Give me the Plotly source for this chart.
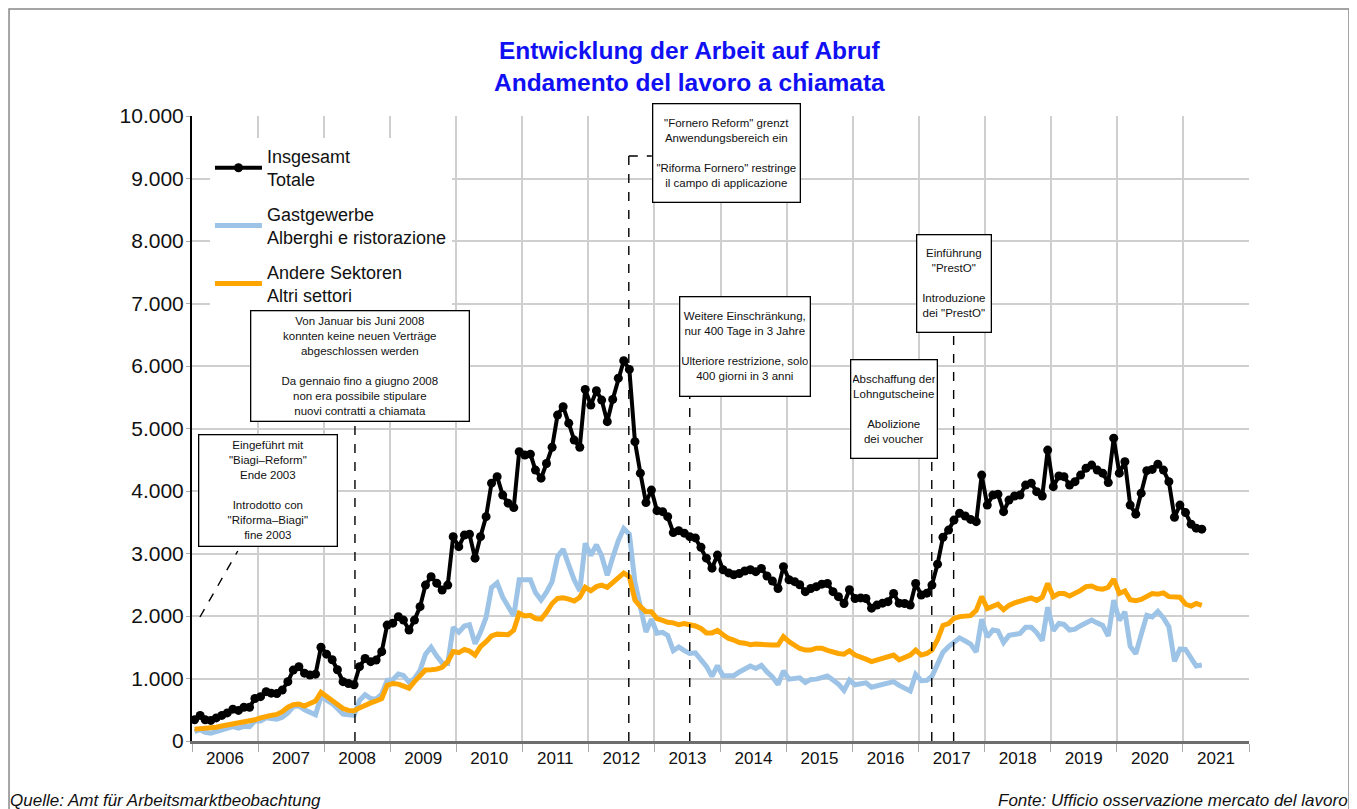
import pandas as pd
import plotly.graph_objects as go

# monthly observations, Jan 2006 .. Apr 2021 (plotted mid-month)
months = pd.date_range("2006-01-01", "2021-04-01", freq="MS") + pd.Timedelta(days=14)

totale = [
    340, 410, 340, 330, 370, 410, 450, 510, 490, 540, 540, 680,            # 2006
    710, 790, 765, 760, 815, 950, 1135, 1190, 1085, 1055, 1070, 1500,      # 2007
    1390, 1300, 1140, 950, 920, 900, 1190, 1320, 1270, 1295, 1430, 1855,   # 2008
    1885, 1990, 1935, 1775, 1935, 2150, 2495, 2630, 2525, 2415, 2495, 3270,  # 2009
    3110, 3295, 3310, 2925, 3270, 3590, 4125, 4230, 3935, 3805, 3735, 4630,  # 2010
    4575, 4590, 4335, 4205, 4440, 4700, 5215, 5350, 5085, 4815, 4700, 5625,  # 2011
    5375, 5605, 5455, 5110, 5465, 5805, 6085, 5945, 4790, 4285, 3815, 4015,  # 2012
    3685, 3670, 3590, 3335, 3365, 3325, 3270, 3250, 3100, 2925, 2765, 2975,  # 2013
    2740, 2690, 2660, 2680, 2720, 2740, 2710, 2760, 2640, 2560, 2440, 2790,  # 2014
    2580, 2550, 2500, 2390, 2440, 2470, 2510, 2520, 2390, 2310, 2200, 2420,  # 2015
    2280, 2290, 2280, 2125, 2175, 2205, 2230, 2360, 2205, 2200, 2175, 2520,  # 2016
    2335, 2365, 2495, 2830, 3260, 3375, 3535, 3645, 3600, 3545, 3510, 4255,  # 2017
    3775, 3935, 3950, 3670, 3855, 3920, 3935, 4095, 4125, 3990, 3920, 4655,  # 2018
    4070, 4240, 4230, 4095, 4150, 4255, 4365, 4415, 4335, 4285, 4135, 4845,  # 2019
    4285, 4470, 3775, 3630, 3965, 4325, 4345, 4430, 4335, 4150, 3580, 3775,  # 2020
    3655, 3470, 3405, 3390,                                                 # 2021
]

alberghi = [
    150, 180, 140, 125, 150, 175, 200, 230, 205, 235, 230, 320,
    320, 370, 360, 350, 380, 450, 550, 560, 500, 460, 420, 710,
    660, 600, 520, 430, 420, 410, 650, 740, 680, 670, 750, 970,
    980, 1070, 1050, 940, 1000, 1130, 1390, 1500, 1360, 1250, 1240, 1820,
    1740, 1840, 1860, 1555, 1740, 1980, 2455, 2530, 2300, 2170, 2000, 2580,
    2575, 2580, 2375, 2255, 2380, 2550, 2950, 3070, 2815, 2580, 2400, 3165,
    2970, 3140, 2960, 2650, 2935, 3205, 3400, 3310, 2540, 2135, 1745, 1950,
    1725, 1740, 1690, 1445, 1505, 1445, 1400, 1410, 1300, 1195, 1035, 1205,
    1045, 1050, 1045, 1105, 1155, 1200, 1160, 1210, 1105, 1025, 905, 1120,
    990, 1000, 1010, 935, 985, 990, 1020, 1040, 975, 910, 810, 975,
    900, 925, 930, 860, 885, 905, 920, 950, 890, 850, 800, 1065,
    965, 970, 1035, 1230, 1420, 1510, 1590, 1650, 1600, 1550, 1425, 1950,
    1665, 1775, 1760, 1575, 1690, 1715, 1720, 1820, 1820, 1735, 1605, 2140,
    1765, 1880, 1865, 1775, 1790, 1845, 1895, 1935, 1890, 1850, 1680, 2255,
    1930, 2065, 1515, 1395, 1705, 2010, 1985, 2075, 1970, 1830, 1275, 1470,
    1465, 1330, 1200, 1215,
]

altri = [
    190, 195, 195, 205, 220, 240, 255, 265, 280, 290, 305, 340,
    370, 400, 410, 425, 470, 540, 580, 590, 560, 600, 640, 780,
    710, 640, 570, 520, 490, 485, 530, 575, 610, 640, 680, 890,
    920, 910, 880, 845, 950, 1055, 1135, 1140, 1150, 1180, 1270, 1430,
    1415, 1465, 1440, 1375, 1510, 1590, 1680, 1710, 1700, 1700, 1775, 2045,
    2000, 2010, 1960, 1950, 2060, 2200, 2280, 2290, 2270, 2240, 2300, 2460,
    2405, 2470, 2495, 2460, 2535, 2600, 2685, 2630, 2255, 2150, 2070, 2070,
    1960, 1930, 1900, 1890, 1860, 1880, 1870, 1840, 1800, 1730, 1730, 1770,
    1700, 1640, 1615, 1575, 1565, 1540, 1550, 1540, 1535, 1535, 1535, 1670,
    1590, 1535, 1480, 1455, 1455, 1485, 1485, 1450, 1415, 1400, 1390, 1445,
    1375, 1350, 1310, 1270, 1295, 1310, 1330, 1375, 1300, 1330, 1375, 1455,
    1375, 1400, 1455, 1620, 1850, 1880, 1960, 1990, 2000, 2005, 2090, 2310,
    2120, 2150, 2190, 2100, 2170, 2210, 2230, 2270, 2290, 2250, 2300, 2520,
    2310, 2360, 2360, 2320, 2360, 2410, 2470, 2480, 2440, 2430, 2460, 2590,
    2360, 2400, 2260, 2245, 2265, 2320, 2360, 2350, 2370, 2310, 2300, 2300,
    2190, 2160, 2200, 2170,
]

series_names = ["Insgesamt<br>Totale",
                "Gastgewerbe<br>Alberghi e ristorazione",
                "Andere Sektoren<br>Altri settori"]

title_lines = ["Entwicklung der Arbeit auf Abruf", "Andamento del lavoro a chiamata"]

FONT = "Liberation Sans, Arial, sans-serif"

fig = go.Figure()
fig.add_trace(go.Scatter(x=months, y=alberghi, mode="lines", name=series_names[1],
                         line=dict(color="#9DC3E6", width=5), legendrank=2, legendgroup="b"))
fig.add_trace(go.Scatter(x=months, y=altri, mode="lines", name=series_names[2],
                         line=dict(color="#FFA500", width=5), legendrank=3, legendgroup="c"))
fig.add_trace(go.Scatter(x=months, y=totale, mode="lines+markers", name=series_names[0],
                         line=dict(color="black", width=4),
                         marker=dict(size=9, color="black"), legendrank=1, legendgroup="a"))

# event boxes: (text, center x paper, center y paper, width, height)
boxes = [
    ("Eingeführt mit<br>\"Biagi–Reform\"<br>Ende 2003<br> <br>Introdotto con<br>\"Riforma–Biagi\"<br>fine 2003",
     0.0719, 0.4008, 140, 113),
    ("Von Januar bis Juni 2008<br>konnten keine neuen Verträge<br>abgeschlossen werden<br> <br>"
     "Da gennaio fino a giugno 2008<br>non era possibile stipulare<br>nuovi contratti a chiamata",
     0.1589, 0.600, 220, 112),
    ("\"Fornero Reform\" grenzt<br>Anwendungsbereich ein<br> <br>\"Riforma Fornero\" restringe<br>il campo di applicazione",
     0.5057, 0.9408, 149, 100),
    ("Weitere Einschränkung,<br>nur 400 Tage in 3 Jahre<br> <br>Ulteriore restrizione, solo<br>400 giorni in 3 anni",
     0.5232, 0.6312, 132, 101),
    ("Abschaffung der<br>Lohngutscheine<br> <br>Abolizione<br>dei voucher",
     0.6641, 0.5312, 88, 100),
    ("Einführung<br>\"PrestO\"<br> <br>Introduzione<br>dei \"PrestO\"",
     0.7209, 0.732, 76, 99),
]

annotations = []
for text, cx, cy, w, h in boxes:
    annotations.append(dict(
        text=text, xref="paper", yref="paper", x=cx, y=cy,
        xanchor="center", yanchor="middle", showarrow=False,
        width=w - 6, height=h - 6, align="center", valign="middle",
        bgcolor="white", bordercolor="black", borderwidth=1.3, borderpad=1.5,
        font=dict(family=FONT, size=11.5, color="#111")))

annotations.append(dict(
    text="<b>" + title_lines[0] + "<br>" + title_lines[1] + "</b>",
    xref="paper", yref="paper", x=0.4702, y=1.079, xanchor="center", yanchor="middle",
    showarrow=False, font=dict(family=FONT, size=24.5, color="#1010F2")))
annotations.append(dict(
    text="<i>Quelle: Amt für Arbeitsmarktbeobachtung</i>", xref="paper", yref="paper",
    x=-0.1741, y=-0.0944, xanchor="left", yanchor="middle", showarrow=False,
    font=dict(family=FONT, size=17, color="#111")))
annotations.append(dict(
    text="<i>Fonte: Ufficio osservazione mercato del lavoro</i>", xref="paper", yref="paper",
    x=1.0956, y=-0.0944, xanchor="right", yanchor="middle", showarrow=False,
    font=dict(family=FONT, size=17, color="#111")))

dash = dict(color="black", width=1.4, dash="dash")
shapes = [
    dict(type="line", xref="x", yref="paper", x0="2008-06-20", x1="2008-06-20", y0=0, y1=0.5104, line=dash),
    dict(type="line", xref="x", yref="paper", x0="2012-08-12", x1="2012-08-12", y0=0, y1=0.936, line=dash),
    dict(type="line", xref="x", yref="paper", x0="2012-08-12", x1="2012-12-17", y0=0.936, y1=0.936, line=dash),
    dict(type="line", xref="x", yref="paper", x0="2013-07-15", x1="2013-07-15", y0=0, y1=0.5504, line=dash),
    dict(type="line", xref="x", yref="paper", x0="2017-03-14", x1="2017-03-14", y0=0, y1=0.4512, line=dash),
    dict(type="line", xref="x", yref="paper", x0="2017-07-13", x1="2017-07-13", y0=0, y1=0.6528, line=dash),
    dict(type="line", xref="x", yref="y", x0="2006-02-14", x1="2006-09-11", y0=1984, y1=3040, line=dash),
    # outer frame
    dict(type="rect", xref="paper", yref="paper", x0=-0.1731, x1=1.0946, y0=-0.2, y1=1.1712,
         line=dict(color="#888", width=1.5), layer="below"),
]

# the page body adds an 8px offset, so the figure is 8px smaller than the window
fig.update_layout(
    width=1349, height=801, autosize=False,
    margin=dict(l=184, r=108, t=108, b=68),
    paper_bgcolor="white", plot_bgcolor="white",
    font=dict(family=FONT, color="black"),
    separators=",.",
    showlegend=True,
    legend=dict(x=0.017, y=0.965, xanchor="left", yanchor="top",
                bgcolor="white", borderwidth=0, tracegroupgap=8, itemwidth=47,
                font=dict(family=FONT, size=18, color="#111"), traceorder="grouped"),
    annotations=annotations,
    shapes=shapes,
)

fig.update_xaxes(type="date", range=["2006-01-01", "2022-01-01"],
                 dtick="M12", tick0="2006-01-01", tickformat="%Y", ticklabelmode="period",
                 showgrid=True, gridcolor="#cfcfcf", gridwidth=1.5,
                 showline=True, linecolor="#6e6e6e", linewidth=3,
                 ticks="outside", ticklen=8, tickcolor="#aaaaaa", tickwidth=1,
                 ticklabelstandoff=-8,
                 tickfont=dict(family=FONT, size=17, color="#111"), zeroline=False)
fig.update_yaxes(range=[0, 10000], dtick=1000, tick0=0, tickformat=",.0f",
                 showgrid=True, gridcolor="#cfcfcf", gridwidth=1.5,
                 showline=True, linecolor="black", linewidth=2,
                 ticks="outside", ticklen=4, tickcolor="#aaaaaa",
                 ticklabelstandoff=-2,
                 tickfont=dict(family=FONT, size=21, color="#111"), zeroline=False)

fig.write_html("out.html")
